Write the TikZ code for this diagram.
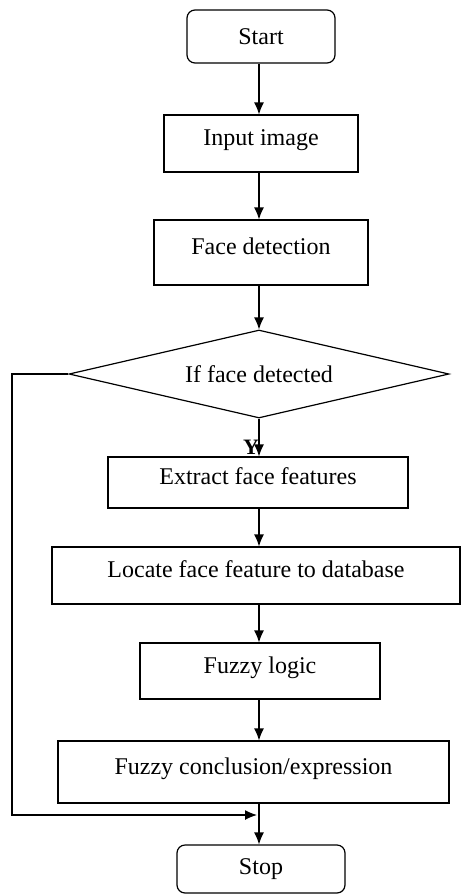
\documentclass[tikz,border=0pt]{standalone}
\usepackage{fontspec}
\setmainfont{Liberation Serif}
\usetikzlibrary{arrows.meta,shapes.geometric,positioning}

\begin{document}
\begin{tikzpicture}[x=0.5pt,y=-0.5pt,>={Latex[length=6pt,width=5pt]},
    every node/.style={font=\fontsize{12}{14}\selectfont},
    box/.style={draw,line width=0.6pt,inner sep=0pt},
    stepbox/.style={box,text height=8pt,text depth=6pt},
    term/.style={box,rounded corners=4pt},
    decision/.style={box,diamond,aspect=4.3},
    flow/.style={->,line width=0.6pt}]
  \useasboundingbox (0,0) rectangle (461,894);
  \node[term,minimum width=74pt,minimum height=26.5pt] (start) at (261,36.5) {Start};
  \node[stepbox,minimum width=97pt,minimum height=28.5pt] (input) at (261,143.5) {Input image};
  \node[stepbox,minimum width=107pt,minimum height=32.5pt] (detect) at (261,252.5) {Face detection};
  \node[decision,minimum width=190pt,minimum height=44pt] (dec) at (259,374) {If face detected};
  \node[font=\fontsize{11}{13}\selectfont\bfseries] (ylab) at (251,447) {Y};
  \node[stepbox,minimum width=150pt,minimum height=25.5pt] (extract) at (258,482.5) {Extract face features};
  \node[stepbox,minimum width=204pt,minimum height=28.5pt] (locate) at (256,575.5) {Locate face feature to database};
  \node[stepbox,minimum width=120pt,minimum height=28pt] (fuzzy) at (260,671) {Fuzzy logic};
  \node[stepbox,minimum width=195.5pt,minimum height=31pt] (concl) at (253.5,772) {Fuzzy conclusion/expression};
  \node[term,minimum width=84pt,minimum height=24pt] (stop) at (261,869) {Stop};
  \coordinate (merge) at (257,815);
  % main flow
  \foreach \a/\b in {start/input,input/detect,detect/dec,dec/extract,extract/locate,locate/fuzzy,fuzzy/concl,concl/stop}
    \draw[flow] (\a.south -| dec) -- (\b.north -| dec);
  % no face: skip to the end
  \draw[flow] (dec.west) -- (12,374) |- (merge);
\end{tikzpicture}
\end{document}
